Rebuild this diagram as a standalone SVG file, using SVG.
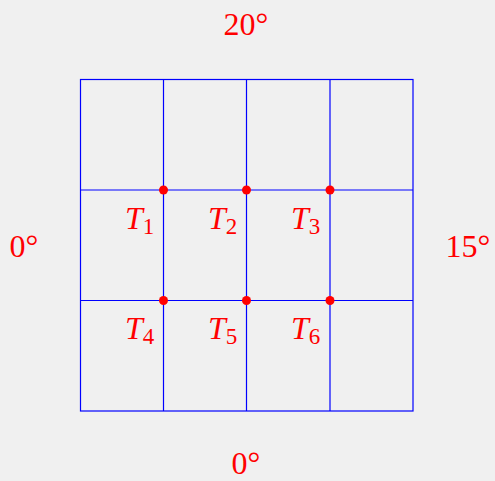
<svg xmlns="http://www.w3.org/2000/svg" width="495" height="481" viewBox="0 0 495 481">
<style>
.g{stroke:#0000ff;stroke-width:1.2;fill:none}
.d{fill:#ff0000}
.t{font-family:"Liberation Serif",serif;font-size:32px;fill:#ff0000}
.i{font-style:italic}
.s{font-size:23px}
</style>
<rect width="495" height="481" fill="#f0f0f0"/>
<g id="connectors">
<rect class="g" x="80.5" y="79.5" width="332.5" height="331.5"/>
<line class="g" x1="163.5" y1="79.5" x2="163.5" y2="411"/>
<line class="g" x1="246.5" y1="79.5" x2="246.5" y2="411"/>
<line class="g" x1="330" y1="79.5" x2="330" y2="411"/>
<line class="g" x1="80.5" y1="190" x2="413" y2="190"/>
<line class="g" x1="80.5" y1="300.5" x2="413" y2="300.5"/>
</g>
<g id="n1"><circle class="d" cx="163.5" cy="190" r="4.5"/><text class="t" x="125" y="229"><tspan class="i">T</tspan><tspan class="s" dy="5">1</tspan></text></g>
<g id="n2"><circle class="d" cx="246.5" cy="190" r="4.5"/><text class="t" x="208" y="229"><tspan class="i">T</tspan><tspan class="s" dy="5">2</tspan></text></g>
<g id="n3"><circle class="d" cx="330" cy="190" r="4.5"/><text class="t" x="291" y="229"><tspan class="i">T</tspan><tspan class="s" dy="5">3</tspan></text></g>
<g id="n4"><circle class="d" cx="163.5" cy="300.5" r="4.5"/><text class="t" x="125" y="339"><tspan class="i">T</tspan><tspan class="s" dy="5">4</tspan></text></g>
<g id="n5"><circle class="d" cx="246.5" cy="300.5" r="4.5"/><text class="t" x="208" y="339"><tspan class="i">T</tspan><tspan class="s" dy="5">5</tspan></text></g>
<g id="n6"><circle class="d" cx="330" cy="300.5" r="4.5"/><text class="t" x="291" y="339"><tspan class="i">T</tspan><tspan class="s" dy="5">6</tspan></text></g>
<g id="top"><text class="t" x="246" y="35" text-anchor="middle">20°</text></g>
<g id="left"><text class="t" x="24" y="257" text-anchor="middle">0°</text></g>
<g id="right"><text class="t" x="468" y="257" text-anchor="middle">15°</text></g>
<g id="bottom"><text class="t" x="246" y="474" text-anchor="middle">0°</text></g>
</svg>
